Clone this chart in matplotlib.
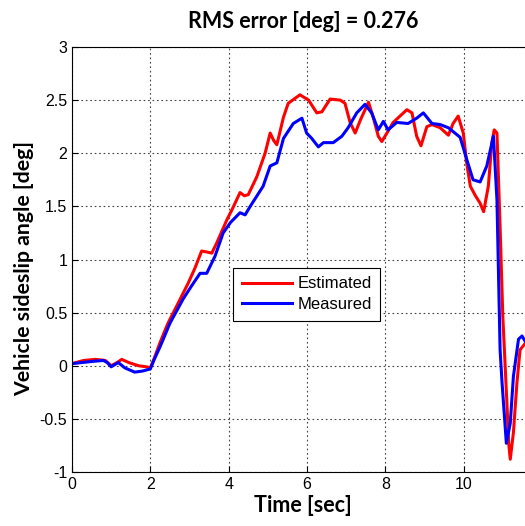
import matplotlib
matplotlib.use('Agg')
import matplotlib.pyplot as plt

# Estimated sideslip (red)
t_est = [0.0, 0.3, 0.6, 0.85, 1.0, 1.15, 1.27, 1.45, 1.7, 1.9, 2.0, 2.1, 2.25, 2.45,
         2.67, 2.97, 3.14, 3.31, 3.45, 3.57, 3.7, 3.95, 4.1, 4.29, 4.4, 4.5, 4.72,
         4.93, 5.06, 5.15, 5.23, 5.4, 5.52, 5.82, 6.04, 6.25, 6.38, 6.59, 6.85,
         6.97, 7.1, 7.23, 7.36, 7.57, 7.69, 7.82, 7.91, 8.04, 8.2, 8.55, 8.68,
         8.8, 8.91, 9.06, 9.19, 9.4, 9.61, 9.73, 9.86, 9.99, 10.08, 10.17, 10.3,
         10.42, 10.51, 10.63, 10.72, 10.78, 10.85, 10.93, 11.0, 11.1, 11.15,
         11.19, 11.27, 11.36, 11.44, 11.57, 11.65]
y_est = [0.02, 0.05, 0.06, 0.05, 0.0, 0.03, 0.06, 0.03, 0.0, -0.01, -0.02, 0.07, 0.22, 0.4,
         0.56, 0.78, 0.92, 1.08, 1.07, 1.06, 1.16, 1.37, 1.48, 1.63, 1.6, 1.61, 1.78,
         2.0, 2.19, 2.12, 2.08, 2.34, 2.47, 2.55, 2.5, 2.38, 2.39, 2.51, 2.5,
         2.47, 2.29, 2.19, 2.31, 2.48, 2.34, 2.16, 2.11, 2.19, 2.29, 2.41, 2.38,
         2.16, 2.07, 2.25, 2.27, 2.24, 2.17, 2.28, 2.35, 2.19, 1.9, 1.69, 1.6,
         1.53, 1.45, 1.69, 2.1, 2.22, 2.19, 1.31, 0.46, -0.32, -0.73,
         -0.88, -0.63, -0.16, 0.15, 0.21, 0.2]

# Measured sideslip (blue)
t_meas = [0.0, 0.5, 0.8, 0.9, 1.0, 1.18, 1.35, 1.6, 1.8, 2.0, 2.1, 2.25, 2.5, 2.84,
          3.05, 3.27, 3.44, 3.65, 3.86, 4.05, 4.29, 4.42, 4.55, 4.88, 5.06, 5.23,
          5.4, 5.65, 5.87, 5.99, 6.12, 6.29, 6.42, 6.67, 6.89, 7.05, 7.27, 7.48,
          7.65, 7.82, 7.95, 8.07, 8.29, 8.58, 8.8, 8.97, 9.19, 9.4, 9.61, 9.91,
          10.08, 10.24, 10.42, 10.59, 10.76, 10.85, 10.93, 10.98, 11.09, 11.19,
          11.27, 11.4, 11.49, 11.57, 11.65]
y_meas = [0.02, 0.04, 0.05, 0.03, -0.01, 0.03, -0.02, -0.06, -0.05, -0.03, 0.06, 0.18, 0.4, 0.63,
          0.75, 0.87, 0.87, 1.03, 1.25, 1.35, 1.44, 1.42, 1.5, 1.69, 1.88, 1.91,
          2.14, 2.28, 2.33, 2.19, 2.14, 2.06, 2.1, 2.1, 2.16, 2.24, 2.38, 2.46,
          2.38, 2.22, 2.3, 2.22, 2.29, 2.28, 2.33, 2.38, 2.28, 2.27, 2.24, 2.15,
          1.94, 1.75, 1.73, 1.88, 2.16, 1.56, 0.15, -0.16, -0.73, -0.54,
          -0.1, 0.25, 0.28, 0.23, 0.2]

fig = plt.figure(figsize=(5.25, 5.26), dpi=100)
ax = fig.add_axes([72 / 525, 54 / 526, 470 / 525, 425 / 526])

ax.plot(t_est, y_est, color='#ff0000', lw=2.2, label='Estimated')
ax.plot(t_meas, y_meas, color='#0000ff', lw=2.2, label='Measured')

ax.set_xlim(0, 12)
ax.set_ylim(-1, 3)
ax.set_xticks([0, 2, 4, 6, 8, 10])
ax.set_yticks([-1, -0.5, 0, 0.5, 1, 1.5, 2, 2.5, 3])
ax.set_yticklabels(['-1', '-0.5', '0', '0.5', '1', '1.5', '2', '2.5', '3'])
ax.tick_params(direction='in', labelsize=11.5, length=4)
for lab in ax.get_xticklabels() + ax.get_yticklabels():
    lab.set_family('Liberation Sans')
ax.grid(True, color='#444444', linestyle=(0, (1.5, 2.5)), lw=0.8)
ax.spines['right'].set_visible(False)

fig.text(303 / 525, 1 - 505 / 526, 'Time [sec]', ha='center', va='center',
         fontsize=15.5, fontweight='bold', family='Lato')
fig.text(24 / 525, 1 - 268 / 526, 'Vehicle sideslip angle [deg]', ha='center', va='center',
         rotation=90, fontsize=15.3, fontweight='bold', family='Lato')
fig.text(303 / 525, 1 - 21 / 526, 'RMS error [deg] = 0.276', ha='center', va='center',
         fontsize=15.5, fontweight='bold', family='Lato')

leg = ax.legend(loc='upper left', bbox_to_anchor=(0.343, 0.48), fancybox=False,
                edgecolor='black', framealpha=1, prop={'family': 'Liberation Sans', 'size': 12},
                handlelength=3.0, handletextpad=0.35, borderpad=0.5, labelspacing=0.35,
                borderaxespad=0)
leg.get_frame().set_linewidth(0.8)

plt.savefig('out.png', dpi=100)
